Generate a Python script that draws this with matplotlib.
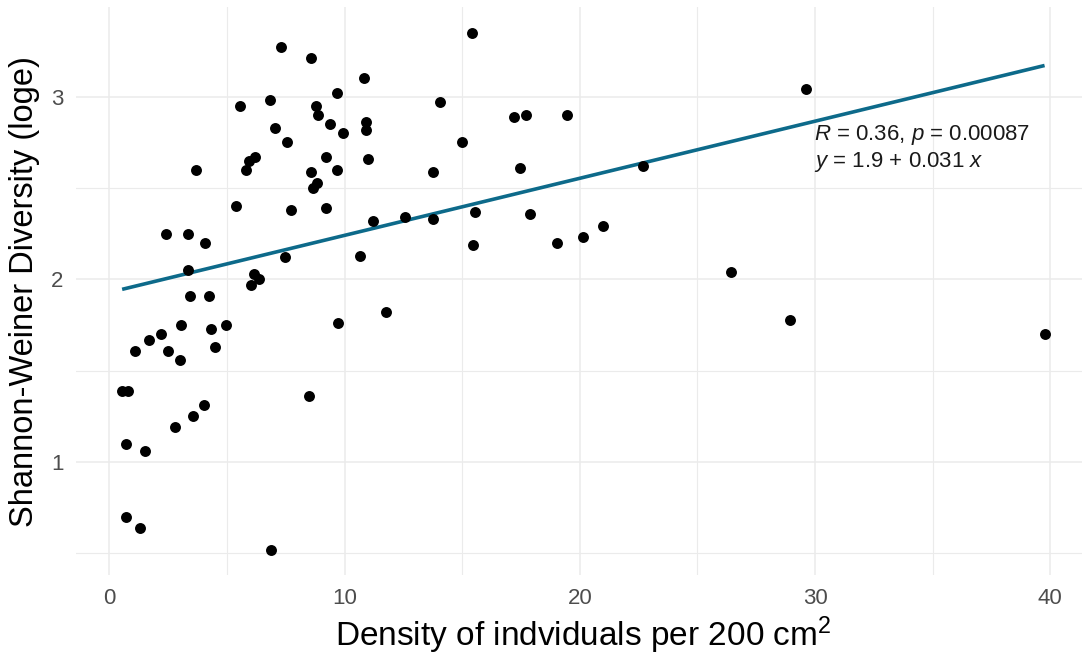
import numpy as np
import matplotlib
matplotlib.use("Agg")
import matplotlib.pyplot as plt
from matplotlib.ticker import MultipleLocator

plt.rcParams['font.family'] = ['Liberation Sans', 'DejaVu Sans']
plt.rcParams['mathtext.fontset'] = 'custom'
plt.rcParams['mathtext.rm'] = 'Liberation Sans'
plt.rcParams['mathtext.it'] = 'Liberation Sans:italic'

# Density of individuals per 200 cm^2 for each quadrat
density = [
    7.28, 8.57, 10.81, 9.69, 6.81, 5.56, 8.80, 8.87, 7.06, 9.39,
    9.93, 7.57, 6.20, 5.94, 5.80, 3.69, 9.22, 8.57, 9.66, 8.84,
    8.65, 5.39, 7.72, 9.19, 2.40, 3.32, 4.06, 3.35, 7.46, 6.13,
    6.38, 6.04, 3.43, 4.23, 3.04, 2.21, 1.68, 1.09, 2.47, 3.00,
    4.31, 4.95, 4.47, 9.73, 10.67, 0.54, 0.77, 8.48, 4.03, 3.56,
    2.78, 0.71, 1.53, 0.71, 1.31, 6.87, 15.43, 14.04, 10.91, 10.91,
    17.22, 17.73, 19.46, 14.97, 11.00, 13.77, 17.46, 22.70, 11.19, 12.58,
    13.74, 15.56, 17.90, 15.46, 19.01, 20.14, 21.00, 11.76, 29.60, 26.43,
    28.95, 39.76,
]
# Shannon-Weiner diversity (log e) for the same quadrats
diversity = [
    3.27, 3.21, 3.10, 3.02, 2.98, 2.95, 2.95, 2.90, 2.83, 2.85,
    2.80, 2.75, 2.67, 2.65, 2.60, 2.60, 2.67, 2.59, 2.60, 2.53,
    2.50, 2.40, 2.38, 2.39, 2.25, 2.25, 2.20, 2.05, 2.12, 2.03,
    2.00, 1.97, 1.91, 1.91, 1.75, 1.70, 1.67, 1.61, 1.61, 1.56,
    1.73, 1.75, 1.63, 1.76, 2.13, 1.39, 1.39, 1.36, 1.31, 1.25,
    1.19, 1.10, 1.06, 0.70, 0.64, 0.52, 3.35, 2.97, 2.86, 2.82,
    2.89, 2.90, 2.90, 2.75, 2.66, 2.59, 2.61, 2.62, 2.32, 2.34,
    2.33, 2.37, 2.36, 2.19, 2.20, 2.23, 2.29, 1.82, 3.04, 2.04,
    1.78, 1.70,
]

x_ticks = [0, 10, 20, 30, 40]
y_ticks = [1, 2, 3]
stat_lines = [r"$R$ = 0.36, $p$ = 0.00087", r"$y$ = 1.9 + 0.031 $x$"]

x = np.array(density)
y = np.array(diversity)

W, H = 1082, 655
fig = plt.figure(figsize=(W / 100, H / 100), dpi=100)

# data limits with 5% padding on each side
xr = x.max() - x.min()
yr = y.max() - y.min()
xlim = (x.min() - 0.05 * xr, x.max() + 0.05 * xr)
ylim = (y.min() - 0.05 * yr, y.max() + 0.05 * yr)

# panel placement in pixels
left_px, top_px = 76, 7
px_per_x = 23.52
px_per_y = 182.6
width_px = (xlim[1] - xlim[0]) * px_per_x
height_px = (ylim[1] - ylim[0]) * px_per_y
ax = fig.add_axes([left_px / W, 1 - (top_px + height_px) / H,
                   width_px / W, height_px / H])
ax.set_xlim(xlim)
ax.set_ylim(ylim)

for s in ax.spines.values():
    s.set_visible(False)
ax.set_xticks(x_ticks)
ax.set_yticks(y_ticks)
ax.xaxis.set_minor_locator(MultipleLocator(5))
ax.yaxis.set_minor_locator(MultipleLocator(0.5))
ax.grid(which='major', color='#EBEBEB', linewidth=1.1)
ax.grid(which='minor', color='#EBEBEB', linewidth=0.8)
ax.set_axisbelow(True)
ax.tick_params(which='both', length=0)
ax.tick_params(axis='both', labelsize=16, labelcolor='#4D4D4D', pad=9)

# least-squares fit over the observed range
slope, intercept = np.polyfit(x, y, 1)
xs = np.linspace(x.min(), x.max(), 100)
ax.plot(xs, intercept + slope * xs, color='#0D6A8A', linewidth=2.6, zorder=2,
        solid_capstyle='butt')

ax.scatter(x, y, s=62, color='black', zorder=3, linewidths=0)

ax.text(29.95, 2.763, stat_lines[0], fontsize=16, color='#1A1A1A', va='baseline')
ax.text(29.95, 2.615, stat_lines[1], fontsize=16, color='#1A1A1A', va='baseline')

ax.set_xlabel(r"Density of indviduals per 200 cm$^2$", fontsize=24,
              color='black', labelpad=4)
ax.set_ylabel("Shannon-Weiner Diversity (loge)", fontsize=23.5,
              color='black', labelpad=8)

fig.savefig("out.png", dpi=100)
